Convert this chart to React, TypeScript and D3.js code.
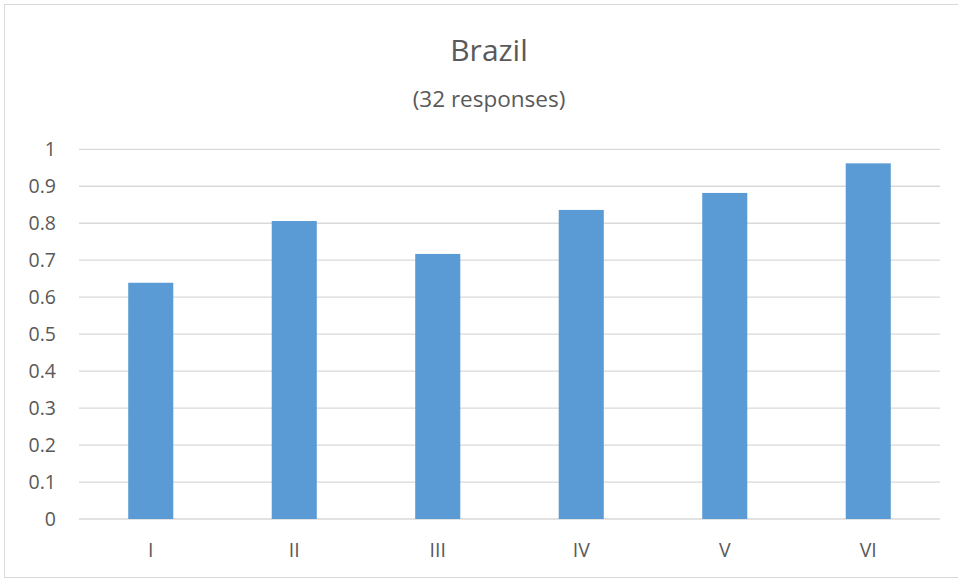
import React from "react";
import * as d3 from "d3";

const categories = ["I", "II", "III", "IV", "V", "VI"];
const values = [0.639, 0.806, 0.717, 0.836, 0.882, 0.962];
const yTicks = [0, 0.1, 0.2, 0.3, 0.4, 0.5, 0.6, 0.7, 0.8, 0.9, 1];
const title = "Brazil";
const subtitle = "(32 responses)";

export default function App() {
  const W = 958, H = 578;
  const left = 79, right = 940, top = 149.3, bottom = 519;
  const x = d3.scaleBand<string>().domain(categories).range([left, right]).paddingInner(0.686).paddingOuter(0.343);
  const y = d3.scaleLinear().domain([0, 1]).range([bottom, top]);
  const font = "'Open Sans', sans-serif";
  const fmt = (v: number) => (v === 0 || v === 1 ? String(v) : v.toFixed(1));
  return (
    <svg width={W} height={H} style={{ position: "absolute", left: 0, top: 0, background: "#fff" }} fontFamily={font}>
      <rect x={4.5} y={4.5} width={W - 4} height={H - 5} fill="#fff" stroke="#D9D9D9" />
      <text x={489} y={61} textAnchor="middle" fontSize={30} fill="#595959">{title}</text>
      <text x={489} y={107} textAnchor="middle" fontSize={22.5} fill="#595959">{subtitle}</text>
      {yTicks.map((t) => (
        <g key={t}>
          <line x1={left} x2={right} y1={y(t)} y2={y(t)} stroke="#D9D9D9" strokeWidth={1.3} />
          <text x={56} y={y(t)} dy="0.36em" textAnchor="end" fontSize={19.5} fill="#595959">{fmt(t)}</text>
        </g>
      ))}
      {categories.map((c, i) => (
        <rect key={c} x={x(c)} y={y(values[i])} width={x.bandwidth()} height={y(0) - y(values[i])} fill="#5B9BD5" />
      ))}
      {categories.map((c) => (
        <text key={c} x={(x(c) as number) + x.bandwidth() / 2} y={557} textAnchor="middle" fontSize={19.5} fill="#595959">{c}</text>
      ))}
    </svg>
  );
}
